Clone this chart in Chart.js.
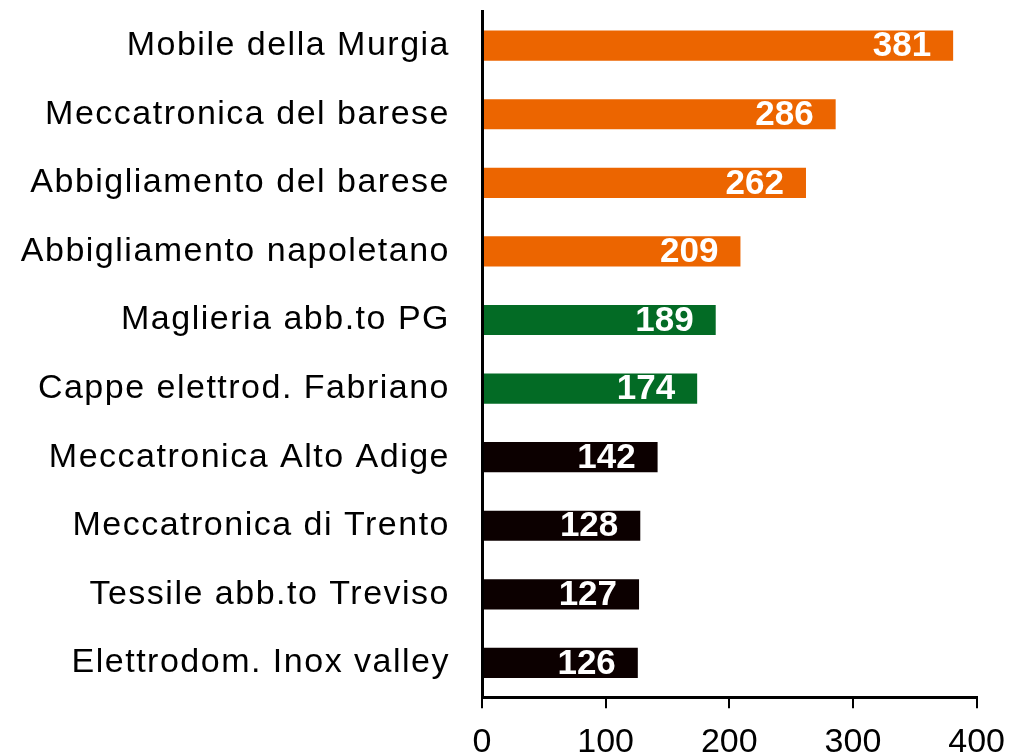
<!DOCTYPE html>
<html>
<head>
<meta charset="utf-8">
<script src="https://cdn.jsdelivr.net/npm/chart.js@4/dist/chart.umd.min.js"></script>
<style>
  html, body { margin: 0; padding: 0; background: #fff; overflow: hidden; }
  /* the canvas is a little larger than the window: the x tick labels are cut at the bottom edge */
  #wrap { position: relative; width: 1019px; height: 818px; margin-top: -41px; }
</style>
</head>
<body>
<div id="wrap"><canvas id="chart"></canvas></div>
<script>
// distretti e valori
const categories = [
  'Mobile della Murgia',
  'Meccatronica del barese',
  'Abbigliamento del barese',
  'Abbigliamento napoletano',
  'Maglieria abb.to PG',
  'Cappe elettrod. Fabriano',
  'Meccatronica Alto Adige',
  'Meccatronica di Trento',
  'Tessile abb.to Treviso',
  'Elettrodom. Inox valley'
];
const values = [381, 286, 262, 209, 189, 174, 142, 128, 127, 126];
const areas = ['sud', 'sud', 'sud', 'sud', 'centro', 'centro', 'nord', 'nord', 'nord', 'nord'];
const xTicks = [0, 100, 200, 300, 400];

const areaColors = { sud: '#EC6500', centro: '#036B25', nord: '#0C0000' };
const FONT = 'Liberation Sans, Arial, sans-serif';

// etichette bianche dentro le barre, poi spaziatura per le etichette dell'asse y
const barLabels = {
  id: 'barLabels',
  beforeDraw(chart) {
    chart.ctx.letterSpacing = '0px';
  },
  afterDatasetsDraw(chart) {
    const ctx = chart.ctx;
    const meta = chart.getDatasetMeta(0);
    ctx.save();
    ctx.font = 'bold 35px ' + FONT;
    ctx.fillStyle = '#fff';
    ctx.textAlign = 'right';
    ctx.textBaseline = 'middle';
    meta.data.forEach((bar, i) => {
      ctx.fillText(String(values[i]), bar.x - 22, bar.y + 1);
    });
    ctx.restore();
    ctx.letterSpacing = '1.5px';   // asse y disegnato dopo (z: 1)
  },
  afterDraw(chart) {
    chart.ctx.letterSpacing = '0px';
  }
};

new Chart(document.getElementById('chart'), {
  type: 'bar',
  data: {
    labels: categories,
    datasets: [{
      data: values,
      backgroundColor: areas.map(a => areaColors[a]),
      borderWidth: 0,
      categoryPercentage: 1,
      barPercentage: 0.44
    }]
  },
  options: {
    indexAxis: 'y',
    responsive: true,
    maintainAspectRatio: false,
    animation: false,
    layout: { padding: { top: 0, right: 34, bottom: 0, left: 0 } },
    scales: {
      x: {
        min: 0, max: 400,
        afterBuildTicks: scale => { scale.ticks = xTicks.map(v => ({ value: v })); },
        border: { display: true, color: '#000', width: 3 },
        grid: { drawOnChartArea: false, drawTicks: true, tickLength: 11, color: '#000', lineWidth: 2 },
        ticks: { color: '#000', padding: 14, font: { family: FONT, size: 34 } }
      },
      y: {
        afterFit: scale => { scale.width = 482; },
        border: { display: true, color: '#000', width: 3, z: 1 },
        grid: { display: false, drawTicks: false },
        ticks: { z: 1, color: '#000', padding: 32, font: { family: FONT, size: 34 } }
      }
    },
    plugins: {
      legend: { display: false },
      tooltip: { enabled: false }
    }
  },
  plugins: [barLabels]
});
</script>
</body>
</html>
